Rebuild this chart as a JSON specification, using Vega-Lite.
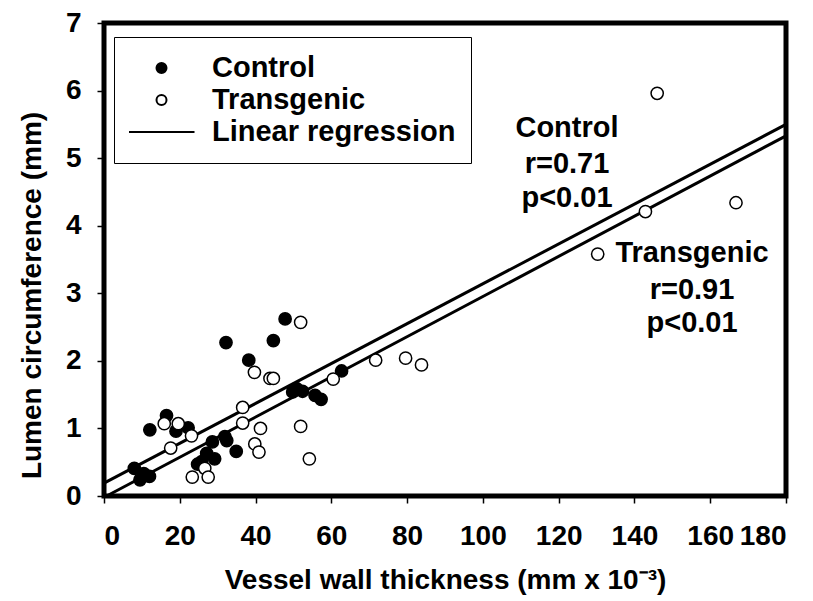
{
  "$schema": "https://vega.github.io/schema/vega-lite/v6.json",
  "width": 682,
  "height": 473,
  "autosize": {"type": "none"},
  "padding": {"left": 104, "top": 23, "right": 27, "bottom": 105},
  "background": "white",
  "config": {
    "font": "Liberation Sans",
    "view": {"stroke": "black", "strokeWidth": 5},
    "axis": {
      "domain": false,
      "grid": false,
      "tickColor": "black",
      "tickWidth": 1.5,
      "tickSize": 7,
      "labelFont": "Liberation Sans",
      "labelFontSize": 28,
      "labelFontWeight": "bold",
      "labelColor": "black",
      "titleFont": "Liberation Sans",
      "titleFontSize": 28,
      "titleFontWeight": "bold",
      "titleColor": "black"
    }
  },
  "datasets": {
    "pts": [
      {"series": "Control", "thickness": 8.0, "circumference": 0.41},
      {"series": "Control", "thickness": 9.5, "circumference": 0.24},
      {"series": "Control", "thickness": 10.5, "circumference": 0.33},
      {"series": "Control", "thickness": 12.0, "circumference": 0.29},
      {"series": "Control", "thickness": 12.1, "circumference": 0.98},
      {"series": "Control", "thickness": 16.5, "circumference": 1.19},
      {"series": "Control", "thickness": 19.0, "circumference": 0.96},
      {"series": "Control", "thickness": 22.2, "circumference": 1.01},
      {"series": "Control", "thickness": 24.7, "circumference": 0.47},
      {"series": "Control", "thickness": 25.8, "circumference": 0.51},
      {"series": "Control", "thickness": 27.1, "circumference": 0.63},
      {"series": "Control", "thickness": 29.2, "circumference": 0.55},
      {"series": "Control", "thickness": 28.6, "circumference": 0.80},
      {"series": "Control", "thickness": 31.9, "circumference": 0.88},
      {"series": "Control", "thickness": 32.4, "circumference": 0.82},
      {"series": "Control", "thickness": 34.9, "circumference": 0.66},
      {"series": "Control", "thickness": 32.2, "circumference": 2.27},
      {"series": "Control", "thickness": 38.2, "circumference": 2.01},
      {"series": "Control", "thickness": 44.7, "circumference": 2.30},
      {"series": "Control", "thickness": 47.8, "circumference": 2.62},
      {"series": "Control", "thickness": 49.8, "circumference": 1.54},
      {"series": "Control", "thickness": 50.8, "circumference": 1.59},
      {"series": "Control", "thickness": 52.4, "circumference": 1.55},
      {"series": "Control", "thickness": 55.7, "circumference": 1.49},
      {"series": "Control", "thickness": 57.3, "circumference": 1.43},
      {"series": "Control", "thickness": 62.7, "circumference": 1.85},
      {"series": "Transgenic", "thickness": 15.9, "circumference": 1.07},
      {"series": "Transgenic", "thickness": 17.6, "circumference": 0.71},
      {"series": "Transgenic", "thickness": 19.6, "circumference": 1.07},
      {"series": "Transgenic", "thickness": 23.1, "circumference": 0.89},
      {"series": "Transgenic", "thickness": 23.3, "circumference": 0.28},
      {"series": "Transgenic", "thickness": 26.6, "circumference": 0.41},
      {"series": "Transgenic", "thickness": 27.5, "circumference": 0.28},
      {"series": "Transgenic", "thickness": 36.6, "circumference": 1.31},
      {"series": "Transgenic", "thickness": 36.6, "circumference": 1.08},
      {"series": "Transgenic", "thickness": 39.7, "circumference": 1.83},
      {"series": "Transgenic", "thickness": 39.8, "circumference": 0.77},
      {"series": "Transgenic", "thickness": 41.3, "circumference": 1.00},
      {"series": "Transgenic", "thickness": 40.9, "circumference": 0.65},
      {"series": "Transgenic", "thickness": 43.8, "circumference": 1.74},
      {"series": "Transgenic", "thickness": 44.7, "circumference": 1.74},
      {"series": "Transgenic", "thickness": 51.9, "circumference": 2.57},
      {"series": "Transgenic", "thickness": 51.9, "circumference": 1.03},
      {"series": "Transgenic", "thickness": 54.2, "circumference": 0.55},
      {"series": "Transgenic", "thickness": 60.5, "circumference": 1.73},
      {"series": "Transgenic", "thickness": 71.7, "circumference": 2.01},
      {"series": "Transgenic", "thickness": 79.6, "circumference": 2.04},
      {"series": "Transgenic", "thickness": 83.8, "circumference": 1.94},
      {"series": "Transgenic", "thickness": 130.3, "circumference": 3.58},
      {"series": "Transgenic", "thickness": 142.9, "circumference": 4.21},
      {"series": "Transgenic", "thickness": 146.0, "circumference": 5.96},
      {"series": "Transgenic", "thickness": 166.8, "circumference": 4.34}
    ],
    "fits": [
      {"group": "Control", "thickness": 0, "circumference": 0.19},
      {"group": "Control", "thickness": 180, "circumference": 5.5},
      {"group": "Transgenic", "thickness": 0.7, "circumference": 0},
      {"group": "Transgenic", "thickness": 180, "circumference": 5.33}
    ],
    "notes": [
      {"text": "Control", "thickness": 122.2, "circumference": 5.44},
      {"text": "r=0.71", "thickness": 122.2, "circumference": 4.92},
      {"text": "p<0.01", "thickness": 122.2, "circumference": 4.41},
      {"text": "Transgenic", "thickness": 155.2, "circumference": 3.59},
      {"text": "r=0.91", "thickness": 155.2, "circumference": 3.05},
      {"text": "p<0.01", "thickness": 155.2, "circumference": 2.56}
    ]
  },
  "layer": [
    {
      "data": {"name": "fits"},
      "mark": {"type": "line", "color": "black", "strokeWidth": 3},
      "encoding": {
        "x": {
          "field": "thickness", "type": "quantitative",
          "scale": {"domain": [0, 180], "nice": false, "zero": false},
          "axis": {
            "values": [0, 20, 40, 60, 80, 100, 120, 140, 160, 180],
            "labelPadding": 19,
            "title": "Vessel wall thickness (mm x 10⁻³)",
            "titleY": 84,
            "titleBaseline": "middle"
          }
        },
        "y": {
          "field": "circumference", "type": "quantitative",
          "scale": {"domain": [0, 7], "nice": false, "zero": false},
          "axis": {
            "values": [0, 1, 2, 3, 4, 5, 6, 7],
            "format": "d",
            "labelPadding": 16,
            "title": "Lumen circumference (mm)",
            "titleX": -72,
            "titleY": 272,
            "titleAngle": -90,
            "titleAlign": "center",
            "titleBaseline": "middle"
          }
        },
        "detail": {"field": "group", "type": "nominal"}
      }
    },
    {
      "data": {"name": "pts"},
      "mark": {"type": "point", "filled": true, "opacity": 1, "strokeWidth": 1.5, "size": 150},
      "encoding": {
        "x": {"field": "thickness", "type": "quantitative"},
        "y": {"field": "circumference", "type": "quantitative"},
        "fill": {
          "field": "series", "type": "nominal",
          "scale": {"domain": ["Control", "Transgenic", "Linear regression"], "range": ["black", "white", "transparent"]},
          "legend": {
            "title": null,
            "orient": "none",
            "legendX": 10,
            "legendY": 14,
            "padding": 15,
            "strokeColor": "black",
            "fillColor": "white",
            "symbolSize": 100,
            "symbolStrokeWidth": 2,
            "symbolOffset": 18,
            "labelOffset": 36,
            "clipHeight": 32,
            "rowPadding": 0,
            "labelFont": "Liberation Sans",
            "labelFontSize": 29,
            "labelFontWeight": "bold",
            "labelColor": "black",
            "labelLimit": 400
          }
        },
        "stroke": {
          "field": "series", "type": "nominal",
          "scale": {"domain": ["Control", "Transgenic", "Linear regression"], "range": ["black", "black", "black"]},
          "legend": {
            "title": null,
            "orient": "none",
            "legendX": 10,
            "legendY": 14,
            "padding": 15,
            "strokeColor": "black",
            "fillColor": "white",
            "symbolSize": 100,
            "symbolStrokeWidth": 2,
            "symbolOffset": 18,
            "labelOffset": 36,
            "clipHeight": 32,
            "rowPadding": 0,
            "labelFont": "Liberation Sans",
            "labelFontSize": 29,
            "labelFontWeight": "bold",
            "labelColor": "black",
            "labelLimit": 400
          }
        },
        "shape": {
          "field": "series", "type": "nominal",
          "scale": {
            "domain": ["Control", "Transgenic", "Linear regression"],
            "range": ["circle", "circle", "M-6.6,0L6.6,0"]
          },
          "legend": {
            "title": null,
            "orient": "none",
            "legendX": 10,
            "legendY": 14,
            "padding": 15,
            "strokeColor": "black",
            "fillColor": "white",
            "symbolSize": 100,
            "symbolStrokeWidth": 2,
            "symbolOffset": 18,
            "labelOffset": 36,
            "clipHeight": 32,
            "rowPadding": 0,
            "labelFont": "Liberation Sans",
            "labelFontSize": 29,
            "labelFontWeight": "bold",
            "labelColor": "black",
            "labelLimit": 400
          }
        }
      }
    },
    {
      "data": {"name": "notes"},
      "mark": {"type": "text", "font": "Liberation Sans", "fontSize": 29, "fontWeight": "bold", "color": "black", "align": "center", "baseline": "middle"},
      "encoding": {
        "x": {"field": "thickness", "type": "quantitative"},
        "y": {"field": "circumference", "type": "quantitative"},
        "text": {"field": "text", "type": "nominal"}
      }
    }
  ]
}
